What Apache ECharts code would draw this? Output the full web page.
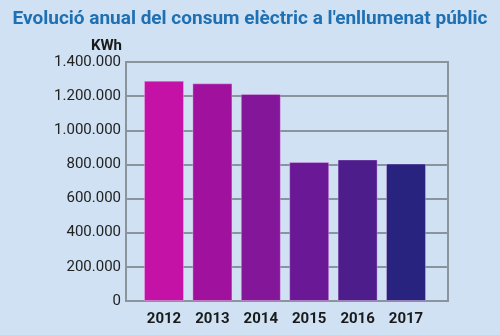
<!DOCTYPE html>
<html><head><meta charset="utf-8">
<script src="https://cdn.jsdelivr.net/npm/echarts@6/dist/echarts.min.js"></script>
<style>html,body{margin:0;padding:0;background:#cfe1f3;}#c{width:500px;height:335px;}</style>
</head><body><div id="c"></div>
<script>
const titleText = "Evolució anual del consum elèctric a l'enllumenat públic";
const unitLabel = "KWh";
const years = ["2012","2013","2014","2015","2016","2017"];
const consum = [1290000, 1275000, 1213000, 814000, 829000, 805000];
const barColors = ["#c412a6","#a0129e","#84169a","#6a1896","#4d1d8c","#27237f"];
const yMin = 0, yMax = 1400000, yStep = 200000;

function fmt(v){ return String(v).replace(/\B(?=(\d{3})+(?!\d))/g,'.'); }
const chart = echarts.init(document.getElementById('c'), null, {renderer:'canvas'});
const gridCol = '#8a949c';
chart.setOption({
  backgroundColor:'#cfe1f3',
  animation:false,
  title:{text:titleText,left:'center',top:5,textStyle:{fontFamily:'Roboto',fontWeight:'bold',fontSize:19,color:'#1f70b3'}},
  grid:[
    {left:126,right:52,top:62,bottom:34,show:true,borderColor:gridCol,borderWidth:2,backgroundColor:'transparent'},
    {left:139.8,width:290.4,top:62,bottom:34}
  ],
  xAxis:[
    {gridIndex:0,type:'value',show:false,min:0,max:1},
    {gridIndex:1,type:'category',data:years,axisLine:{show:false},axisTick:{show:false},
     axisLabel:{margin:11,fontFamily:'Roboto',fontWeight:'bold',fontSize:15,color:'#1a1a1a'}}
  ],
  yAxis:[
    {gridIndex:0,type:'value',min:yMin,max:yMax,interval:yStep,
     name:unitLabel,nameLocation:'end',nameGap:8,
     nameTextStyle:{fontFamily:'Roboto',fontWeight:'bold',fontSize:15,color:'#1a1a1a',align:'right',padding:[0,4,0,0]},
     axisLine:{show:true,lineStyle:{color:gridCol,width:2}},
     axisTick:{show:false},
     axisLabel:{margin:5,formatter:fmt,fontFamily:'Roboto',fontSize:15,color:'#222'},
     splitLine:{show:true,lineStyle:{color:gridCol,width:2}}},
    {gridIndex:1,type:'value',min:yMin,max:yMax,interval:yStep,show:false,splitLine:{show:false}}
  ],
  series:[{
    type:'bar',xAxisIndex:1,yAxisIndex:1,barWidth:40,
    data:consum.map((v,i)=>({value:v,itemStyle:{color:barColors[i],borderColor:'rgba(255,200,255,0.35)',borderWidth:1}}))
  }]
});
</script></body></html>
